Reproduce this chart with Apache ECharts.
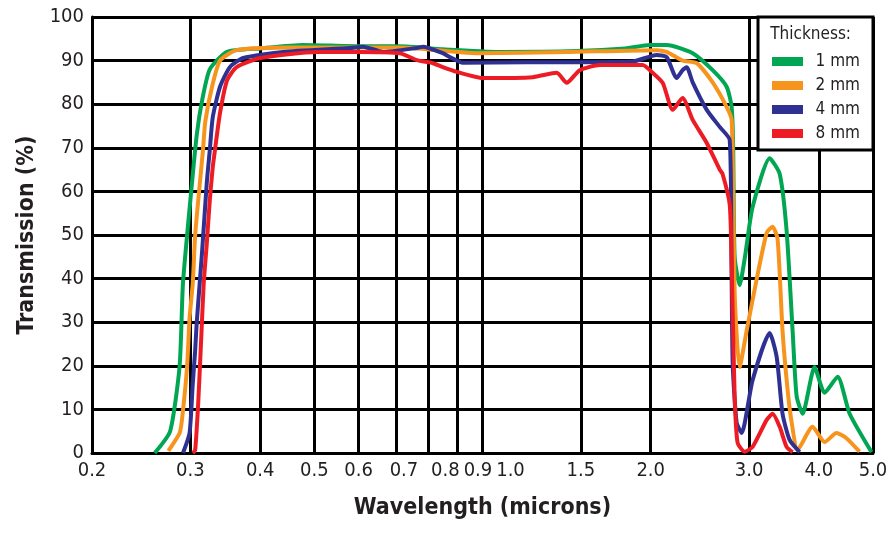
<!DOCTYPE html>
<html>
<head>
<meta charset="utf-8">
<script src="https://cdn.jsdelivr.net/npm/echarts@6/dist/echarts.min.js"></script>
<style>html,body{margin:0;padding:0;background:#fff;}#c{width:893px;height:537px;}</style>
</head>
<body>
<div id="c"></div>
<script>
const FONT = "'Liberation Sans Narrow','DejaVu Sans Condensed','Roboto Condensed',sans-serif";
const xTicks = [0.2, 0.3, 0.4, 0.5, 0.6, 0.7, 0.8, 0.9, 1.0, 1.5, 2.0, 3.0, 4.0, 5.0];
const yTicks = [0, 10, 20, 30, 40, 50, 60, 70, 80, 90, 100];
const seriesNames = ['1 mm', '2 mm', '4 mm', '8 mm'];
const colors = ['#00a651', '#f7941d', '#2e3192', '#ed1c24'];

const t1mm = [[0.259,0],[0.276,5],[0.287,20],[0.291,39],[0.301,60],[0.308,73],[0.315,81],[0.325,88],[0.349,92],[0.40,92.8],[0.477,93.6],[0.6,93.3],[0.711,93.3],[0.85,92.6],[1.074,92],[1.475,92.2],[1.8,92.8],[1.992,93.6],[2.136,93.6],[2.378,91.7],[2.582,87.8],[2.735,84],[2.792,79.4],[2.81,70],[2.827,45],[2.886,38.5],[2.95,45],[3.044,56.4],[3.266,67.6],[3.404,64],[3.502,51],[3.59,28],[3.65,13],[3.741,9],[3.93,19.7],[4.096,13.8],[4.322,17.5],[4.541,9],[4.97,0.2]];
const t2mm = [[0.274,0.5],[0.287,4.6],[0.29,8],[0.296,20],[0.299,31],[0.303,39],[0.306,50],[0.312,62],[0.316,69.5],[0.319,76],[0.328,84],[0.339,90],[0.363,92.4],[0.45,93],[0.6,93],[0.711,93],[0.977,91.7],[1.415,92],[2.05,92.4],[2.136,92],[2.281,90],[2.418,89.4],[2.582,85],[2.735,79.4],[2.792,76.4],[2.81,60],[2.83,35],[2.886,19.7],[2.97,28],[3.094,39.7],[3.226,50.5],[3.306,51.9],[3.375,49],[3.444,28],[3.517,14.4],[3.576,7],[3.664,0.7],[3.898,6],[4.096,2.5],[4.302,4.6],[4.482,3.4],[4.73,0.3]];
const t4mm = [[0.291,0],[0.299,4.6],[0.303,16],[0.306,23.6],[0.308,30],[0.315,46.6],[0.321,62],[0.325,69.5],[0.329,77],[0.339,84],[0.353,88.5],[0.373,90.6],[0.439,92],[0.579,92.9],[0.611,93.2],[0.663,92],[0.763,92.9],[0.782,93.2],[0.849,91.7],[0.874,90.8],[0.922,89.5],[1.2,89.6],[1.857,89.8],[2.05,91.3],[2.136,90.8],[2.226,86],[2.281,87.8],[2.32,88.5],[2.378,85],[2.52,78.7],[2.658,74.8],[2.77,71.8],[2.79,45],[2.804,20.6],[2.85,7],[2.91,4.6],[3.044,16.7],[3.266,27.5],[3.362,22],[3.444,9],[3.546,3],[3.696,0.2]];
const t8mm = [[0.303,0],[0.306,0.7],[0.31,12],[0.314,27.5],[0.317,39],[0.321,48],[0.325,58],[0.329,65.6],[0.332,69.5],[0.339,78],[0.349,85.5],[0.363,88.5],[0.4,90.6],[0.505,92],[0.603,92],[0.711,91.7],[0.763,90.1],[0.815,89.4],[0.849,88.5],[0.9,87.4],[1.001,86],[1.23,86.2],[1.358,87.2],[1.415,84.9],[1.493,87.8],[1.622,89],[1.935,89],[2.017,87.2],[2.102,84.9],[2.19,78.7],[2.281,81.4],[2.378,76.4],[2.52,71.1],[2.658,65],[2.69,64],[2.77,57],[2.792,43.5],[2.827,13],[2.862,2.3],[2.946,0.3],[3.044,1.4],[3.226,7.6],[3.306,9],[3.404,6],[3.502,1.4],[3.59,0.2]];
const seriesData = [t1mm, t2mm, t4mm, t8mm];

const labelShift = {'0.7': 's8', '0.8': 's17', '0.9': 's21', '1.0': 's27'};
const LBL = 20;

const chart = echarts.init(document.getElementById('c'), null, {renderer: 'canvas'});
chart.setOption({
  animation: false,
  backgroundColor: '#fff',
  textStyle: {fontFamily: FONT},
  grid: {left: 92, right: 20, top: 17, bottom: 84, containLabel: false},
  title: {
    text: 'Thickness:', right: 37, top: 21,
    textStyle: {fontFamily: FONT, fontSize: 17, fontWeight: 'normal', color: '#231f20'}
  },
  legend: {
    data: seriesNames,
    orient: 'vertical',
    right: 20, top: 17,
    backgroundColor: '#fff',
    borderColor: '#000', borderWidth: 3,
    padding: [36, 13, 8, 14],
    itemWidth: 31, itemHeight: 9, itemGap: 7,
    icon: 'rect',
    formatter: n => '{a|' + n + '}',
    textStyle: {
      fontFamily: FONT, color: '#231f20',
      rich: {a: {fontFamily: FONT, fontSize: 17, width: 52, align: 'right', lineHeight: 17, color: '#231f20'}}
    }
  },
  xAxis: {
    type: 'log', logBase: 10, min: 0.2, max: 5.0,
    name: 'Wavelength (microns)', nameLocation: 'middle', nameGap: 44,
    nameTextStyle: {fontFamily: FONT, fontSize: 23, fontWeight: 'bold', color: '#231f20'},
    axisLine: {show: true, lineStyle: {color: '#000', width: 3}},
    axisTick: {show: false, customValues: xTicks},
    splitLine: {show: true, lineStyle: {color: '#000', width: 3}},
    minorSplitLine: {show: false},
    axisLabel: {
      customValues: xTicks,
      fontFamily: FONT, fontSize: LBL, color: '#231f20', margin: 8,
      formatter: v => {
        const s = Number(v).toFixed(1);
        const k = labelShift[s];
        return k ? '{' + k + '|' + s + '}' : s;
      },
      rich: {
        s8: {padding: [0, 0, 0, 16], fontFamily: FONT, fontSize: LBL, color: '#231f20'},
        s17: {padding: [0, 0, 0, 34], fontFamily: FONT, fontSize: LBL, color: '#231f20'},
        s21: {padding: [0, 0, 0, 42], fontFamily: FONT, fontSize: LBL, color: '#231f20'},
        s27: {padding: [0, 0, 0, 56], fontFamily: FONT, fontSize: LBL, color: '#231f20'}
      }
    }
  },
  yAxis: {
    type: 'value', min: 0, max: 100, interval: 10,
    name: 'Transmission (%)', nameLocation: 'middle', nameGap: 51,
    nameTextStyle: {fontFamily: FONT, fontSize: 23, fontWeight: 'bold', color: '#231f20'},
    axisLine: {show: true, lineStyle: {color: '#000', width: 3}},
    axisTick: {show: false},
    splitLine: {show: true, lineStyle: {color: '#000', width: 3}},
    axisLabel: {fontFamily: FONT, fontSize: LBL, color: '#231f20', margin: 8}
  },
  series: seriesNames.map((n, i) => ({
    name: n, type: 'line', data: seriesData[i],
    showSymbol: false, smooth: 0.2,
    color: colors[i],
    lineStyle: {width: 4, color: colors[i]},
    itemStyle: {color: colors[i]},
    z: 3 + i
  }))
});
</script>
</body>
</html>
